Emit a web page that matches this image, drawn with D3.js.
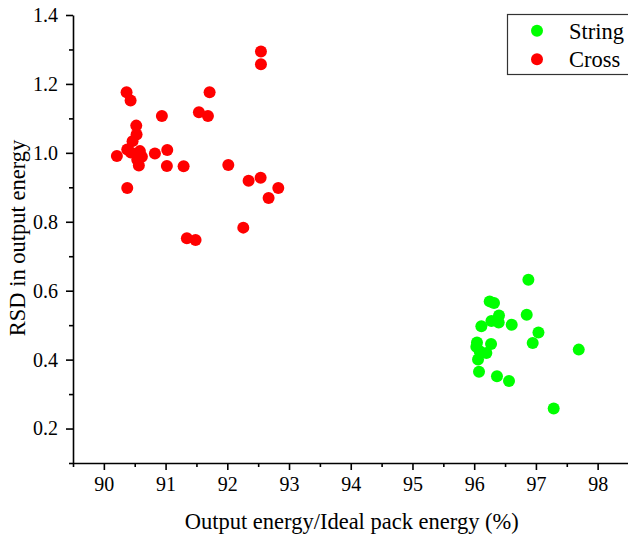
<!DOCTYPE html>
<html>
<head>
<meta charset="utf-8">
<script src="https://cdn.jsdelivr.net/npm/d3@7"></script>
<style>
  html, body { margin: 0; padding: 0; background: #fff; }
  svg { display: block; }
  text { font-family: "Liberation Serif", "Times New Roman", serif; fill: #000; }
</style>
</head>
<body>
<svg id="chart" width="628" height="539"></svg>
<script>
// Output energy ratio (%) and RSD for each pack configuration
const stringX = [96.878, 96.251, 96.321, 96.851, 96.402, 96.279, 96.397, 96.608, 96.116, 97.041, 96.948,
                 96.273, 96.045, 96.035, 96.089, 96.197, 96.062, 96.078, 96.369, 96.564, 97.694, 97.288];
const stringY = [0.632, 0.569, 0.564, 0.530, 0.528, 0.512, 0.508, 0.501, 0.497, 0.479, 0.448,
                 0.445, 0.450, 0.437, 0.424, 0.419, 0.400, 0.365, 0.352, 0.338, 0.429, 0.258];

const crossX = [92.545, 92.545, 90.368, 90.433, 91.713, 91.540, 91.686, 90.940, 90.525, 90.530, 90.465,
                90.379, 90.438, 90.584, 90.211, 90.616, 90.541, 90.567, 90.827, 91.027, 91.021, 91.292,
                92.016, 90.379, 92.345, 92.540, 92.826, 92.669, 92.259, 91.345, 91.486];
const crossY = [1.294, 1.257, 1.176, 1.152, 1.176, 1.118, 1.107, 1.107, 1.079, 1.053, 1.034,
                1.010, 1.001, 1.005, 0.991, 0.989, 0.980, 0.963, 0.998, 1.008, 0.962, 0.961,
                0.965, 0.898, 0.919, 0.928, 0.898, 0.869, 0.783, 0.752, 0.747];

const seriesNames = ["String", "Cross"];
const seriesColors = ["#00ff00", "#ff0000"];

const xTicks = [90, 91, 92, 93, 94, 95, 96, 97, 98];
const yTicks = [0.2, 0.4, 0.6, 0.8, 1.0, 1.2, 1.4];
const xDomain = [89.5, 98.5];
const yDomain = [0.1, 1.4];

const xLabel = "Output energy/Ideal pack energy (%)";
const yLabel = "RSD in output energy";

const svg = d3.select("#chart");
const plotLeft = 73, plotRight = 628.5, plotTop = 15, plotBottom = 463;

const x = d3.scaleLinear().domain(xDomain).range([plotLeft, plotRight]);
const y = d3.scaleLinear().domain(yDomain).range([plotBottom, plotTop]);

const tickFont = 20;
const titleFont = 22.5;

// Axes: major ticks with labels, minor ticks at half steps
const xMinor = d3.range(89.5, 98.51, 1);
const yMinor = d3.range(0.1, 1.35, 0.2).map(v => +v.toFixed(2));

const xAxis = svg.append("g").attr("transform", `translate(0,${plotBottom})`);
xAxis.call(d3.axisBottom(x).tickValues(xTicks).tickSize(7).tickSizeOuter(0).tickPadding(7)
  .tickFormat(d3.format("d")));
xAxis.append("g").call(d3.axisBottom(x).tickValues(xMinor).tickSize(4).tickSizeOuter(0).tickFormat(""))
  .select(".domain").remove();

const yAxis = svg.append("g").attr("transform", `translate(${plotLeft},0)`);
yAxis.call(d3.axisLeft(y).tickValues(yTicks).tickSize(7).tickSizeOuter(0).tickPadding(8)
  .tickFormat(d3.format(".1f")));
yAxis.append("g").call(d3.axisLeft(y).tickValues(yMinor).tickSize(4).tickSizeOuter(0).tickFormat(""))
  .select(".domain").remove();

svg.selectAll(".domain, .tick line").attr("stroke", "#000").attr("stroke-width", 1.6);
svg.selectAll(".tick text").attr("font-size", tickFont)
  .attr("font-family", "Liberation Serif, Times New Roman, serif").attr("fill", "#000");

// Axis titles
svg.append("text")
  .attr("x", (plotLeft + plotRight) / 2 + 1).attr("y", 529)
  .attr("text-anchor", "middle").attr("font-size", titleFont)
  .text(xLabel);

svg.append("text")
  .attr("transform", `translate(25,${(plotTop + plotBottom) / 2 - 1}) rotate(-90)`)
  .attr("text-anchor", "middle").attr("font-size", titleFont)
  .text(yLabel);

// Points
const series = [
  { name: seriesNames[0], color: seriesColors[0], xs: stringX, ys: stringY },
  { name: seriesNames[1], color: seriesColors[1], xs: crossX, ys: crossY }
];

series.forEach(s => {
  svg.append("g").selectAll("circle")
    .data(s.xs.map((v, i) => [v, s.ys[i]]))
    .join("circle")
    .attr("cx", d => x(d[0]))
    .attr("cy", d => y(d[1]))
    .attr("r", 6)
    .attr("fill", s.color);
});

// Legend
const legend = svg.append("g");
legend.append("rect")
  .attr("x", 507.5).attr("y", 14.5).attr("width", 130).attr("height", 60)
  .attr("fill", "#fff").attr("stroke", "#333").attr("stroke-width", 1.2);
series.forEach((s, i) => {
  const cy = 30.7 + i * 28.6;
  legend.append("circle").attr("cx", 537).attr("cy", cy).attr("r", 6).attr("fill", s.color);
  legend.append("text").attr("x", 569).attr("y", cy + 7.8)
    .attr("font-size", titleFont).text(s.name);
});
</script>
</body>
</html>
